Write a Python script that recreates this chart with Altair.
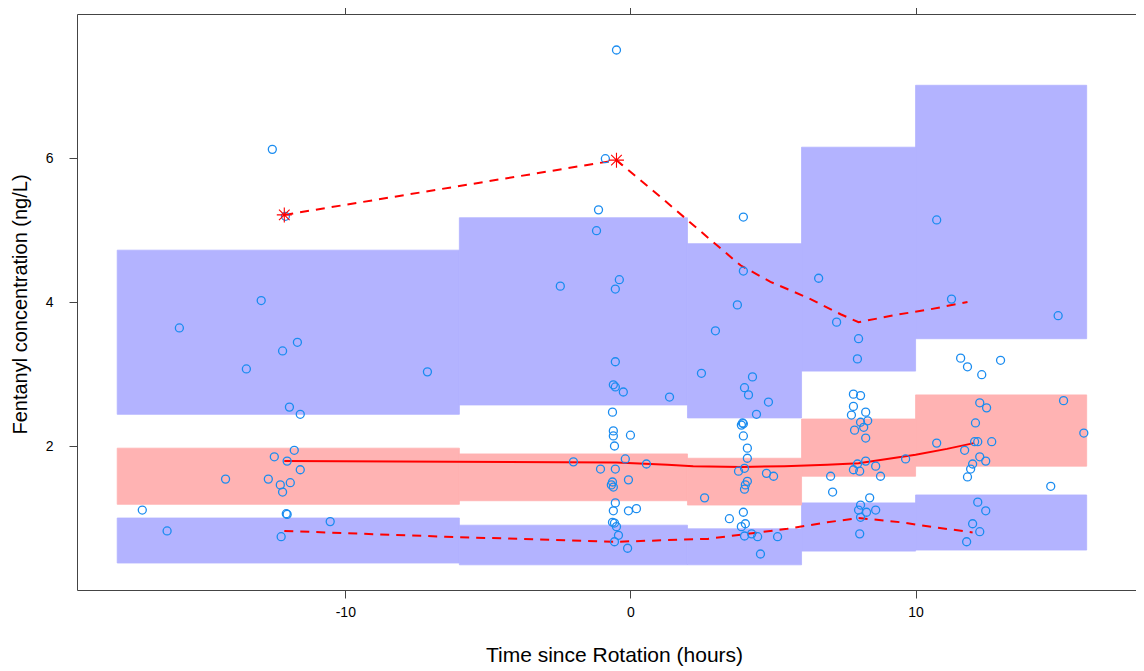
import altair as alt
import pandas as pd

# observed concentrations (time since rotation, ng/L)
obs_time = [-17.12, -16.25, -15.82, -14.20, -13.47, -12.95, -12.56, -12.10, -11.68, -12.20,
            -11.96, -11.58, -11.79, -12.49, -12.04, -11.58, -12.70, -12.28, -11.93, -12.20,
            -12.07, -12.04, -10.53, -12.25, -7.12,
            -2.46, -2.00, -1.12, -1.19, -0.88, -0.49, -0.39, -0.53, -0.53, -0.60,
            -0.53, -0.25, 1.37, -0.63, -0.60, -0.60, 0.00, -0.56, -0.18, 0.56,
            -1.05, -0.53, -0.07, -0.63, -0.67, -0.60, -0.53, -0.60, -0.07, 0.21,
            -0.63, -0.56, -0.49, -0.42, -0.56, -0.10,
            3.96, 3.96, 3.75, 2.98, 2.49, 4.28, 4.00, 4.14, 4.84, 4.42,
            3.93, 3.96, 3.89, 3.96, 4.10, 4.10, 4.00, 3.79, 4.77, 5.02,
            4.10, 4.03, 4.00, 2.60, 3.96, 3.47, 4.03, 3.89, 4.00, 4.25,
            4.46, 5.16, 4.56,
            6.60, 7.23, 8.00, 7.96, 7.82, 8.07, 7.82, 8.25, 7.75, 8.07,
            8.32, 8.18, 7.86, 8.25, 9.65, 8.25, 7.96, 8.60, 7.82, 8.04,
            7.02, 8.77, 7.09, 8.39, 8.07, 8.00, 8.60, 8.28, 8.07, 8.04,
            10.74, 11.26, 15.00, 11.58, 11.82, 12.98, 12.32, 12.25, 12.49, 15.19,
            12.10, 15.90, 10.74, 12.07, 12.18, 12.67, 11.72, 12.25, 12.46, 12.00,
            11.93, 11.82, 14.74, 12.18, 12.46, 12.00, 12.25, 11.79]
obs_conc = [1.11, 0.82, 3.64, 1.54, 3.07, 4.02, 6.12, 5.19, 3.44, 3.32,
            2.54, 2.44, 1.94, 1.85, 1.79, 1.67, 1.54, 1.46, 1.49, 1.36,
            1.06, 1.05, 0.95, 0.74, 3.03,
            4.22, 1.78, 5.28, 4.99, 5.99, 7.50, 4.31, 4.18, 3.17, 2.85,
            2.82, 2.75, 2.68, 2.47, 2.21, 2.14, 2.15, 2.00, 1.82, 1.75,
            1.68, 1.68, 1.53, 1.50, 1.46, 1.43, 1.21, 1.10, 1.10, 1.13,
            0.94, 0.93, 0.88, 0.76, 0.67, 0.58,
            5.18, 4.43, 3.96, 3.60, 3.01, 2.96, 2.81, 2.71, 2.61, 2.44,
            2.32, 2.31, 2.29, 2.14, 1.97, 1.83, 1.69, 1.65, 1.62, 1.58,
            1.51, 1.46, 1.40, 1.28, 1.08, 0.99, 0.92, 0.88, 0.75, 0.78,
            0.74, 0.74, 0.50,
            4.33, 3.72, 3.49, 3.21, 2.72, 2.70, 2.55, 2.47, 2.43, 2.33,
            2.35, 2.26, 2.22, 2.11, 1.82, 1.79, 1.75, 1.72, 1.67, 1.65,
            1.58, 1.58, 1.36, 1.28, 1.18, 1.11, 1.11, 1.08, 1.01, 0.78,
            5.14, 4.04, 3.81, 3.22, 3.10, 3.19, 2.99, 2.60, 2.53, 2.63,
            2.32, 2.18, 2.04, 2.06, 2.06, 2.06, 1.94, 1.85, 1.79, 1.75,
            1.68, 1.57, 1.44, 1.22, 1.10, 0.92, 0.81, 0.67]

# time bins and simulated prediction intervals
bin_start = [-18, -6, 2, 6, 10]
bin_end = [-6, 2, 6, 10, 16]
p5_ci_low = [0.375, 0.35, 0.35, 0.54, 0.555]
p5_ci_high = [1.00, 0.90, 0.85, 1.21, 1.32]
p50_ci_low = [1.19, 1.24, 1.18, 1.58, 1.72]
p50_ci_high = [1.97, 1.89, 1.83, 2.375, 2.71]
p95_ci_low = [2.44, 2.57, 2.39, 3.04, 3.49]
p95_ci_high = [4.72, 5.17, 4.81, 6.15, 7.01]

# observed percentile lines
p50_time = [-12.14, -0.49, 1.3, 2.2, 3.9, 5.4, 6.9, 8.0, 10.0, 11.1, 12.04]
p50_conc = [1.79, 1.77, 1.74, 1.72, 1.71, 1.72, 1.74, 1.76, 1.88, 1.96, 2.04]
p5_time = [-12.14, -6.5, -0.5, 2.7, 5.5, 6.9, 8.0, 9.5, 10.6, 12.0]
p5_conc = [0.82, 0.74, 0.67, 0.71, 0.85, 0.94, 1.00, 0.94, 0.875, 0.80]
p95_time = [-12.14, -0.49, 1.05, 2.7, 3.86, 4.91, 6.21, 7.37, 8.0, 9.3, 10.53, 11.82]
p95_conc = [5.21, 5.97, 5.46, 4.90, 4.51, 4.28, 4.06, 3.83, 3.72, 3.82, 3.90, 4.00]

# observed percentiles outside the prediction interval
out_time = [-12.14, -0.49]
out_conc = [5.21, 5.97]

x_ticks = [-10, 0, 10]
y_ticks = [2, 4, 6]

FONT = "Liberation Sans"
AX = "#444444"
xs = alt.Scale(domain=[-19.41, 17.73], nice=False, zero=False)
ys = alt.Scale(domain=[0, 8], nice=False, zero=False)

bands = []
for name, lo, hi in [("p5", p5_ci_low, p5_ci_high),
                     ("p50", p50_ci_low, p50_ci_high),
                     ("p95", p95_ci_low, p95_ci_high)]:
    for i in range(len(bin_start)):
        bands.append({"band": name, "t1": bin_start[i], "t2": bin_end[i],
                      "lo": lo[i], "hi": hi[i]})
bands_df = pd.DataFrame(bands)

obs_df = pd.DataFrame({"t": obs_time, "c": obs_conc})
out_df = pd.DataFrame({"t": out_time, "c": out_conc})
lines_df = pd.concat([
    pd.DataFrame({"t": p5_time, "c": p5_conc, "q": "p5"}),
    pd.DataFrame({"t": p50_time, "c": p50_conc, "q": "p50"}),
    pd.DataFrame({"t": p95_time, "c": p95_conc, "q": "p95"}),
])

bottom_axis = alt.Axis(values=x_ticks, title="Time since Rotation (hours)", grid=False,
                       tickSize=8, labelPadding=7, labelFontSize=14,
                       labelExpr="datum.value + ''",
                       titleFontSize=21, titleX=537, titleY=65,
                       titleAlign="center", titleBaseline="middle")
left_axis = alt.Axis(values=y_ticks, title="Fentanyl concentration (ng/L)", grid=False,
                     tickSize=8, labelPadding=16, labelFontSize=14, labelAngle=0,
                     titleFontSize=20, titleX=-57, titleY=290, titleAngle=270,
                     titleAlign="center", titleBaseline="middle")
top_axis = alt.Axis(orient="top", values=x_ticks, title=None, labels=False,
                    grid=False, tickSize=10)

band_scale = alt.Scale(domain=["p5", "p50", "p95"],
                       range=["#B3B3FF", "#FFB3B3", "#B3B3FF"])
band_layer = alt.Chart(bands_df).mark_rect(opacity=1, strokeWidth=0.8).encode(
    x=alt.X("t1:Q", scale=xs, axis=bottom_axis),
    x2="t2:Q",
    y=alt.Y("lo:Q", scale=ys, axis=left_axis),
    y2="hi:Q",
    fill=alt.Fill("band:N", legend=None, scale=band_scale),
    stroke=alt.Stroke("band:N", legend=None, scale=band_scale),
)

median_layer = alt.Chart(lines_df).transform_filter(alt.datum.q == "p50").mark_line(
    color="#FF0000", strokeWidth=2).encode(
    x=alt.X("t:Q", scale=xs, axis=None),
    y=alt.Y("c:Q", scale=ys, axis=None),
)

dash_layer = alt.Chart(lines_df).transform_filter(alt.datum.q != "p50").mark_line(
    color="#FF0000", strokeWidth=2, strokeDash=[9, 7]).encode(
    x=alt.X("t:Q", scale=xs, axis=None),
    y=alt.Y("c:Q", scale=ys, axis=None),
    detail="q:N",
)

point_layer = alt.Chart(obs_df).mark_point(
    shape="circle", filled=False, color="#1A8CF0", size=64, strokeWidth=1.3,
    opacity=1).encode(
    x=alt.X("t:Q", scale=xs, axis=top_axis),
    y=alt.Y("c:Q", scale=ys, axis=None),
)

star_path = ("M0,-1L0,1M-1,0L1,0M-0.71,-0.71L0.71,0.71M-0.71,0.71L0.71,-0.71")
star_layer = alt.Chart(out_df).mark_point(
    shape=star_path, filled=False, color="#FF0000", size=225, strokeWidth=1.1,
    opacity=1).encode(
    x=alt.X("t:Q", scale=xs, axis=None),
    y=alt.Y("c:Q", scale=ys, axis=None),
)

chart = alt.layer(band_layer, median_layer, dash_layer, point_layer, star_layer).resolve_axis(
    x="independent", y="independent"
).properties(
    width=1059, height=576, autosize="none",
    padding={"left": 69, "top": 6, "right": 0, "bottom": 78},
).configure_view(stroke=None).configure_axis(
    domainColor=AX, tickColor=AX, labelColor="#000000", titleColor="#000000",
    labelFont=FONT, titleFont=FONT, titleFontWeight="normal", domainWidth=1, tickWidth=1,
)

chart.save("out.html", embed_options={"renderer": "svg", "actions": False})
